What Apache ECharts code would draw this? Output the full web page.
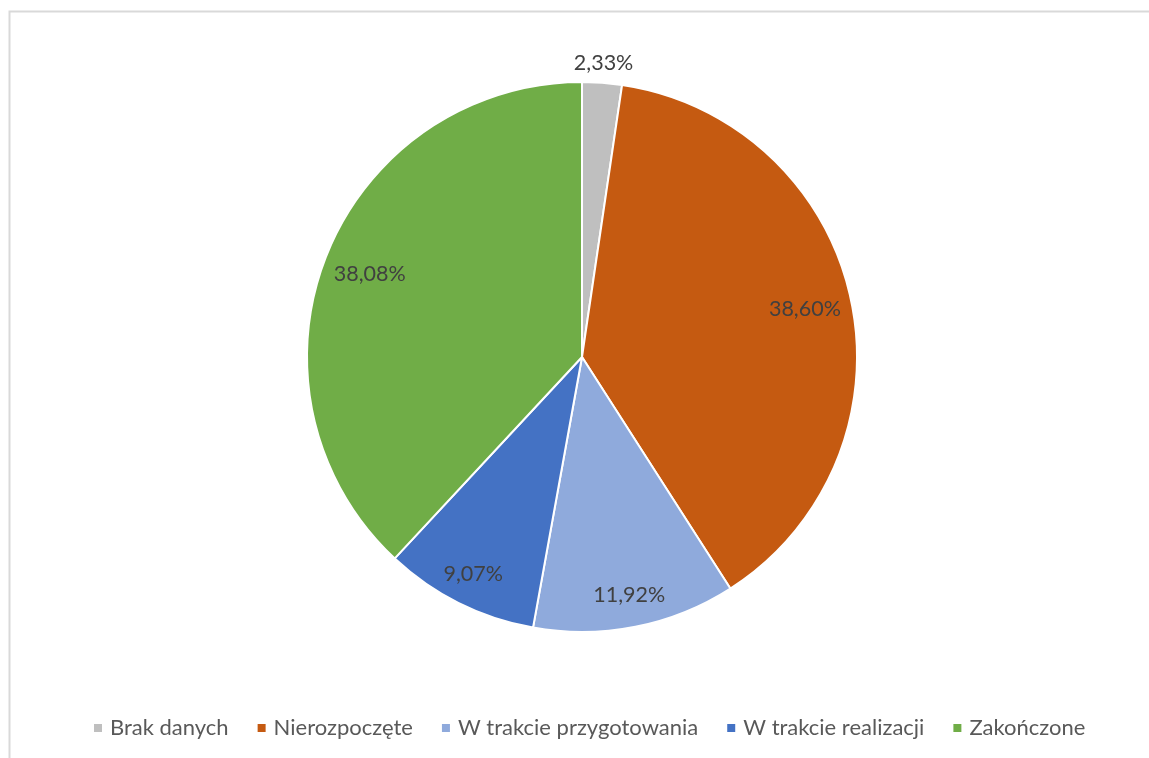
<!DOCTYPE html>
<html>
<head>
<meta charset="utf-8">
<script src="https://cdn.jsdelivr.net/npm/echarts@6/dist/echarts.min.js"></script>
<style>
html,body{margin:0;padding:0;background:#fff;}
#c{width:1149px;height:758px;}
</style>
</head>
<body>
<div id="c"></div>
<script>
const categories = ['Brak danych', 'Nierozpoczęte', 'W trakcie przygotowania', 'W trakcie realizacji', 'Zakończone'];
const values = [2.33, 38.60, 11.92, 9.07, 38.08];
const colors = ['#bfbfbf', '#c55a11', '#8faadc', '#4472c4', '#70ad47'];

const FONT = 'Lato';
const fmt = v => v.toFixed(2).replace('.', ',') + '%';
const data = categories.map((n, i) => ({ name: n, value: values[i] }));

const CX = 582, CY = 357, R = 275;

function labelRing(r0, r1, shown) {
  return {
    type: 'pie',
    center: [CX, CY],
    radius: [r0, r1],
    startAngle: 90,
    clockwise: true,
    data: data,
    silent: true,
    legendHoverLink: false,
    itemStyle: { color: 'rgba(0,0,0,0)', borderWidth: 0 },
    label: {
      show: true, position: 'inside',
      formatter: p => shown.indexOf(p.dataIndex) >= 0 ? fmt(p.value) : '',
      fontFamily: FONT, fontSize: 21.5, color: '#404040',
      padding: [9, 0, 0, 0]
    },
    labelLine: { show: false }
  };
}

const chart = echarts.init(document.getElementById('c'));
chart.setOption({
  animation: false,
  backgroundColor: '#fff',
  color: colors,
  graphic: [{
    type: 'rect', left: 7, top: 9, silent: true,
    shape: { width: 1300, height: 900 },
    style: { fill: 'none', stroke: '#d9d9d9', lineWidth: 2 }
  }],
  legend: {
    data: categories,
    left: 87,
    top: 712,
    icon: 'rect',
    itemWidth: 10,
    itemHeight: 10,
    itemGap: 27,
    textStyle: { fontFamily: FONT, fontSize: 22, color: '#595959', padding: [0, 0, 0, 2] }
  },
  series: [
    {
      type: 'pie',
      center: [CX, CY],
      radius: [0, R],
      startAngle: 90,
      clockwise: true,
      data: data,
      label: { show: false },
      labelLine: { show: false },
      itemStyle: { borderColor: '#fff', borderWidth: 2 },
      silent: true
    },
    labelRing(195, 255, [1, 4]),
    labelRing(210, 270, [2, 3]),
    labelRing(280, 304, [0])
  ]
});
</script>
</body>
</html>
